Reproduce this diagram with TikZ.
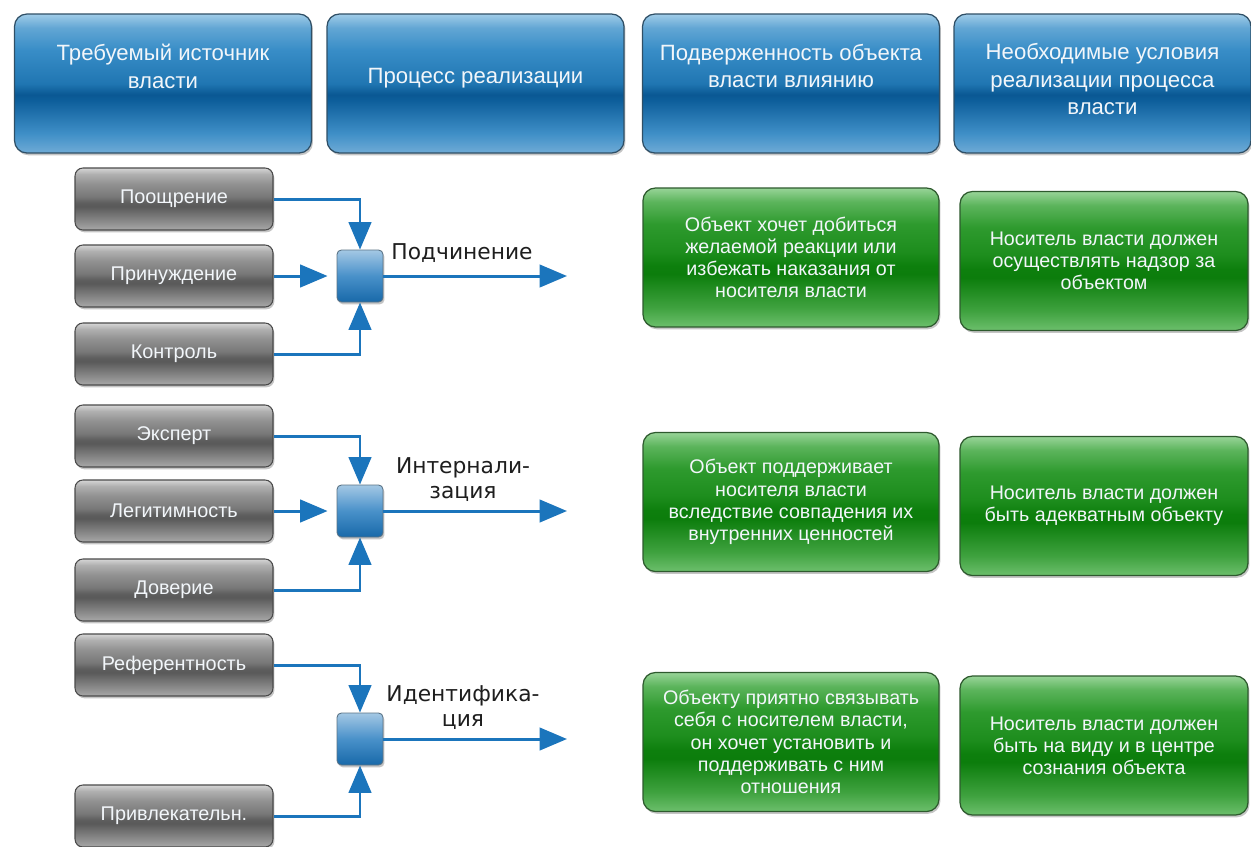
\documentclass[tikz,border=0pt]{standalone}
\usepackage{fontspec}
\setmainfont{Liberation Sans}
\newfontfamily\lblfont{DejaVu Sans}
\usetikzlibrary{arrows.meta, positioning, shadows}

\definecolor{hdrline}{HTML}{2F4F66}
\definecolor{srcline}{HTML}{4A4A4A}
\definecolor{condline}{HTML}{2E5A2E}
\definecolor{arrowblue}{HTML}{1B75BC}
\definecolor{lbltext}{HTML}{1E1E1E}
\definecolor{boxtext}{HTML}{F2F6FA}

\pgfdeclareverticalshading{hdrshade}{100bp}{%
  color(0bp)=(rgb,255:red,111;green,171;blue,214);
  color(25bp)=(rgb,255:red,111;green,171;blue,214);
  color(32bp)=(rgb,255:red,63;green,143;blue,199);
  color(44bp)=(rgb,255:red,13;green,94;blue,155);
  color(46bp)=(rgb,255:red,10;green,88;blue,147);
  color(50bp)=(rgb,255:red,32;green,118;blue,178);
  color(62bp)=(rgb,255:red,56;green,141;blue,199);
  color(70bp)=(rgb,255:red,98;green,166;blue,212);
  color(75bp)=(rgb,255:red,160;green,204;blue,232);
  color(100bp)=(rgb,255:red,160;green,204;blue,232)}
\pgfdeclareverticalshading{srcshade}{100bp}{%
  color(0bp)=(rgb,255:red,168;green,168;blue,168);
  color(25bp)=(rgb,255:red,168;green,168;blue,168);
  color(32bp)=(rgb,255:red,138;green,138;blue,138);
  color(44bp)=(rgb,255:red,89;green,89;blue,89);
  color(47bp)=(rgb,255:red,94;green,94;blue,94);
  color(52bp)=(rgb,255:red,120;green,120;blue,120);
  color(62bp)=(rgb,255:red,145;green,145;blue,145);
  color(70bp)=(rgb,255:red,175;green,175;blue,175);
  color(75bp)=(rgb,255:red,214;green,214;blue,214);
  color(100bp)=(rgb,255:red,214;green,214;blue,214)}
\pgfdeclareverticalshading{condshade}{100bp}{%
  color(0bp)=(rgb,255:red,108;green,191;blue,108);
  color(25bp)=(rgb,255:red,108;green,191;blue,108);
  color(32bp)=(rgb,255:red,63;green,162;blue,63);
  color(44bp)=(rgb,255:red,12;green,125;blue,12);
  color(47bp)=(rgb,255:red,13;green,127;blue,13);
  color(52bp)=(rgb,255:red,29;green,141;blue,29);
  color(62bp)=(rgb,255:red,46;green,154;blue,46);
  color(70bp)=(rgb,255:red,91;green,180;blue,91);
  color(75bp)=(rgb,255:red,152;green,212;blue,152);
  color(100bp)=(rgb,255:red,152;green,212;blue,152)}

\begin{document}
\begin{tikzpicture}[
    x=0.02cm, y=-0.02cm,
    shade/.style={drop shadow={shadow xshift=0.8pt, shadow yshift=-1.3pt, opacity=0.45}},
    hdr/.style={rectangle, draw=hdrline, line width=0.7pt, rounded corners=7pt, shading=hdrshade, minimum width=5.94cm, minimum height=2.78cm, shade},
    htext/.style={align=center, text=boxtext, font=\fontsize{12.6}{15.9}\selectfont, inner sep=0pt},
    src/.style={rectangle, draw=srcline, line width=0.6pt, rounded corners=4.5pt, shading=srcshade, minimum width=3.96cm, minimum height=1.24cm, text=boxtext, font=\fontsize{11.3}{13}\selectfont, shade},
    junc/.style={rectangle, draw=hdrline!80, line width=0.5pt, rounded corners=2.5pt, top color=arrowblue!40, bottom color=arrowblue!90!black, middle color=arrowblue!80, minimum width=0.92cm, minimum height=1.04cm, shade},
    cond/.style={rectangle, draw=condline, line width=0.7pt, rounded corners=7pt, shading=condshade, minimum width=5.92cm, minimum height=2.78cm, align=center, text=boxtext, font=\fontsize{11.2}{12.6}\selectfont, shade},
    lbl/.style={align=center, text=lbltext, font=\lblfont\fontsize{12.4}{14.2}\selectfont, inner sep=0pt},
    arr/.style={draw=arrowblue, line width=1.7pt, -{Triangle[length=0.55cm, width=0.45cm]}}
]
\useasboundingbox (0,0) rectangle (1251,846);
\fill[white] (0,0) rectangle (1251,846);

% column headers
\node[hdr] (h1) at (163,83.5) {};
\node[hdr] (h2) at (475.5,83.5) {};
\node[hdr] (h3) at (791,83.5) {};
\node[hdr] (h4) at (1102.5,83.5) {};
\node[htext] (h1txt) at (163,66) {Требуемый источник\\власти};
\node[htext] (h2txt) at (475.5,78) {Процесс реализации};
\node[htext] (h3txt) at (791,66) {Подверженность объекта\\власти влиянию};
\node[htext] (h4txt) at (1102.5,79) {Необходимые условия\\реализации процесса\\власти};

% sources of power
\node[src] (s1) at (174,199) {Поощрение};
\node[src] (s2) at (174,276) {Принуждение};
\node[src] (s3) at (174,354) {Контроль};
\node[src] (s4) at (174,436) {Эксперт};
\node[src] (s5) at (174,511) {Легитимность};
\node[src] (s6) at (174,590) {Доверие};
\node[src] (s7) at (174,665) {Референтность};
\node[src] (s8) at (174,816) {Привлекательн.};

% junctions and process names
\node[junc] (j1) at (360,276) {};
\node[junc] (j2) at (360,511) {};
\node[junc] (j3) at (360,739) {};
\node[lbl] (l1) at (462,253) {Подчинение};
\node[lbl] (l2) at (463,480) {Интернали-\\зация};
\node[lbl] (l3) at (463,708) {Идентифика-\\ция};
\coordinate (o1) at (567,276);
\coordinate (o2) at (567,511);
\coordinate (o3) at (567,739);

% conditions
\node[cond] (g11) at (791,257.5) {Объект хочет добиться\\желаемой реакции или\\избежать наказания от\\носителя власти};
\node[cond, minimum width=5.76cm] (g12) at (1104,261) {Носитель власти должен\\осуществлять надзор за\\объектом};
\node[cond] (g21) at (791,502) {Объект поддерживает\\носителя власти\\вследствие совпадения их\\внутренних ценностей};
\node[cond, minimum width=5.76cm] (g22) at (1104,506) {Носитель власти должен\\быть адекватным объекту};
\node[cond] (g31) at (791,742) {Объекту приятно связывать\\себя с носителем власти,\\он хочет установить и\\поддерживать с ним\\отношения};
\node[cond, minimum width=5.76cm] (g32) at (1104,745.5) {Носитель власти должен\\быть на виду и в центре\\сознания объекта};

% connectors
\draw[arr] (s1.east) -| (j1.north);
\draw[arr, shorten >=0.18cm] (s2.east) -- (j1.west);
\draw[arr] (s3.east) -| (j1.south);
\draw[arr] (j1.east) -- (o1);
\draw[arr] (s4.east) -| (j2.north);
\draw[arr, shorten >=0.18cm] (s5.east) -- (j2.west);
\draw[arr] (s6.east) -| (j2.south);
\draw[arr] (j2.east) -- (o2);
\draw[arr] (s7.east) -| (j3.north);
\draw[arr] (s8.east) -| (j3.south);
\draw[arr] (j3.east) -- (o3);
\end{tikzpicture}
\end{document}
